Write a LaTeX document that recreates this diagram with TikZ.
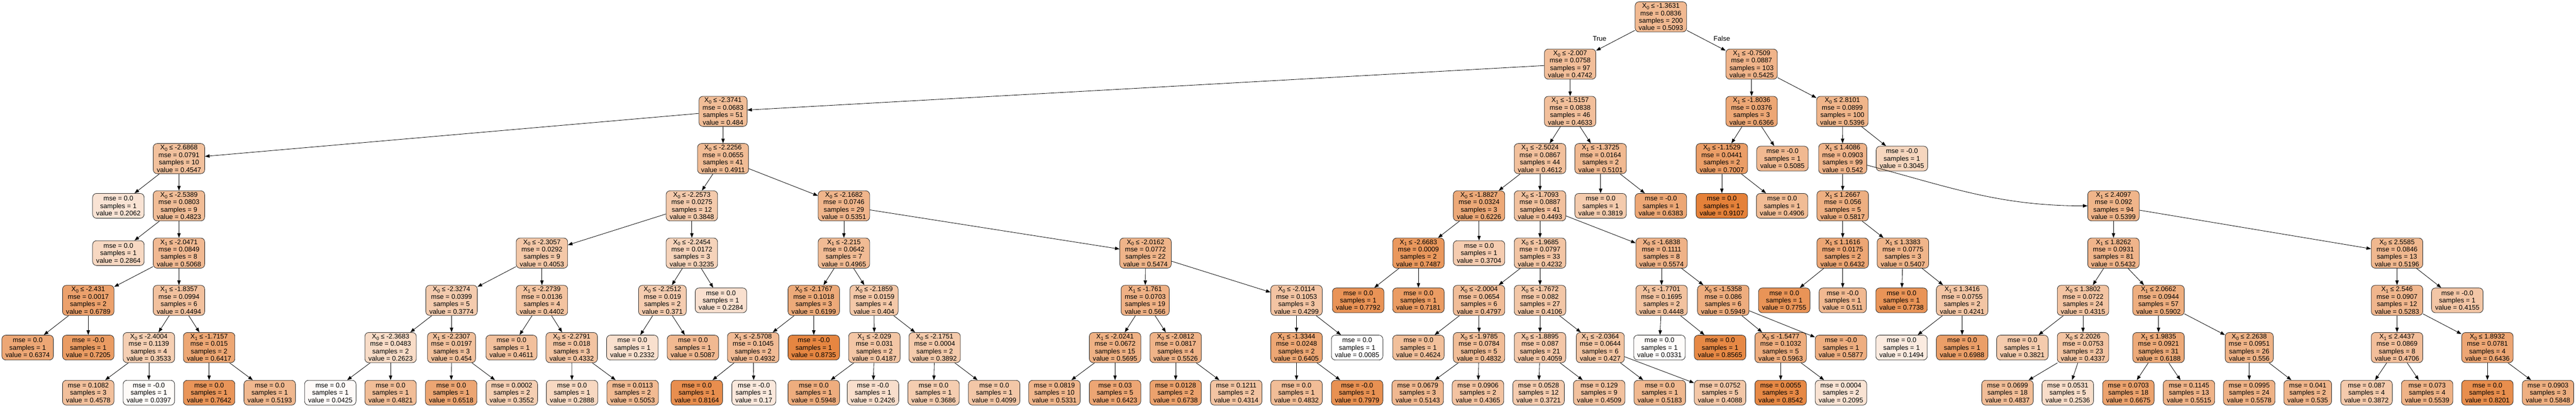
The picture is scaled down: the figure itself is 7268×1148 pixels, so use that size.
\documentclass[tikz,border=0pt]{standalone}
\usepackage{fontspec}
\setmainfont{Liberation Sans}
\usetikzlibrary{arrows.meta}
\definecolor{torange}{HTML}{E58139}
\newcommand\sx[1]{X\raisebox{-0.22em}{\fontsize{13.5}{14}\selectfont #1}}
\newcommand\tsplit[8]{%
  \pgfmathsetmacro\tpct{max(0,min(100,(#8-0.0085)/0.9022*100))}%
  \pgfmathsetmacro\tyy{ifthenelse(#3==8,1108,47.6+133.3*#3)}%
  \node[tbox,fill=torange!\tpct!white,minimum height=85pt] (#1) at (#2,\tyy) {\sx{#4} ≤ #5\\mse = #6\\samples = #7\\value = #8};}
\newcommand\tleaf[6]{%
  \pgfmathsetmacro\tpct{max(0,min(100,(#6-0.0085)/0.9022*100))}%
  \pgfmathsetmacro\tyy{ifthenelse(#3==8,1108,47.6+133.3*#3)}%
  \node[tbox,fill=torange!\tpct!white,minimum height=70pt] (#1) at (#2,\tyy) {mse = #4\\samples = #5\\value = #6};}
\newcommand\ed[2]{\draw[tedge] (#1) -- (#2);}
\begin{document}
\begin{tikzpicture}[x=1pt,y=-1pt,
  tbox/.style={draw=black!85,line width=1.2pt,rounded corners=11pt,align=center,inner xsep=10pt,inner ysep=3pt,font=\fontsize{19}{21}\selectfont,text=black},
  tedge/.style={line width=1.2pt,-{Triangle[length=13pt,width=9.5pt]}},
  tlab/.style={font=\fontsize{19}{21}\selectfont,inner sep=0pt}]
\useasboundingbox (0,0) rectangle (7268,1148);
\fill[white] (0,0) rectangle (7268,1148);
% internal nodes
\tsplit{root}{4686}{0}{0}{-1.3631}{0.0836}{200}{0.5093}
\tsplit{A}{4430}{1}{0}{-2.007}{0.0758}{97}{0.4742}
\tsplit{AW}{4942}{1}{1}{-0.7509}{0.0887}{103}{0.5425}
\tsplit{B}{2040}{2}{0}{-2.3741}{0.0683}{51}{0.484}
\tsplit{AG}{4430}{2}{1}{-1.5157}{0.0838}{46}{0.4633}
\tsplit{AX}{4942}{2}{1}{-1.8036}{0.0376}{3}{0.6366}
\tsplit{AZ}{5198}{2}{0}{2.8101}{0.0899}{100}{0.5396}
\tsplit{C}{505}{3}{0}{-2.6868}{0.0791}{10}{0.4547}
\tsplit{J}{2040}{3}{0}{-2.2256}{0.0655}{41}{0.4911}
\tsplit{AH}{4345}{3}{1}{-2.5024}{0.0867}{44}{0.4612}
\tsplit{AV}{4516}{3}{1}{-1.3725}{0.0164}{2}{0.5101}
\tsplit{AY}{4858}{3}{0}{-1.1529}{0.0441}{2}{0.7007}
\tsplit{BA}{5199}{3}{1}{1.4086}{0.0903}{99}{0.542}
\tsplit{D}{505}{4}{0}{-2.5389}{0.0803}{9}{0.4823}
\tsplit{K}{1952}{4}{0}{-2.2573}{0.0275}{12}{0.3848}
\tsplit{T}{2381}{4}{0}{-2.1682}{0.0746}{29}{0.5351}
\tsplit{AI}{4173}{4}{0}{-1.8827}{0.0324}{3}{0.6226}
\tsplit{AK}{4345}{4}{0}{-1.7093}{0.0887}{41}{0.4493}
\tsplit{BB}{5199}{4}{1}{1.2667}{0.056}{5}{0.5817}
\tsplit{BF}{5963}{4}{1}{2.4097}{0.092}{94}{0.5399}
\tsplit{E}{505}{5}{1}{-2.0471}{0.0849}{8}{0.5068}
\tsplit{L}{1529}{5}{0}{-2.3057}{0.0292}{9}{0.4053}
\tsplit{R}{1952}{5}{0}{-2.2454}{0.0172}{3}{0.3235}
\tsplit{U}{2381}{5}{1}{-2.215}{0.0642}{7}{0.4965}
\tsplit{AA}{3232}{5}{0}{-2.0162}{0.0772}{22}{0.5474}
\tsplit{AJ}{4002}{5}{1}{-2.6683}{0.0009}{2}{0.7487}
\tsplit{AL}{4345}{5}{0}{-1.9685}{0.0797}{33}{0.4232}
\tsplit{AR}{4688}{5}{0}{-1.6838}{0.1111}{8}{0.5574}
\tsplit{BC}{5199}{5}{1}{1.1616}{0.0175}{2}{0.6432}
\tsplit{BD}{5369}{5}{1}{1.3383}{0.0775}{3}{0.5407}
\tsplit{BG}{5963}{5}{1}{1.8262}{0.0931}{81}{0.5432}
\tsplit{BM}{6763}{5}{0}{2.5585}{0.0846}{13}{0.5196}
\tsplit{F}{249}{6}{0}{-2.431}{0.0017}{2}{0.6789}
\tsplit{G}{505}{6}{1}{-1.8357}{0.0994}{6}{0.4494}
\tsplit{M}{1274}{6}{0}{-2.3274}{0.0399}{5}{0.3774}
\tsplit{P}{1529}{6}{1}{-2.2739}{0.0136}{4}{0.4402}
\tsplit{S}{1869}{6}{0}{-2.2512}{0.019}{2}{0.371}
\tsplit{V}{2296}{6}{0}{-2.1767}{0.1018}{3}{0.6199}
\tsplit{X}{2466}{6}{0}{-2.1859}{0.0159}{4}{0.404}
\tsplit{AB}{3231}{6}{1}{-1.761}{0.0703}{19}{0.566}
\tsplit{AE}{3658}{6}{0}{-2.0114}{0.1053}{3}{0.4299}
\tsplit{AM}{4173}{6}{0}{-2.0004}{0.0654}{6}{0.4797}
\tsplit{AO}{4345}{6}{0}{-1.7672}{0.082}{27}{0.4106}
\tsplit{AS}{4688}{6}{1}{-1.7701}{0.1695}{2}{0.4448}
\tsplit{AT}{4862}{6}{0}{-1.5358}{0.086}{6}{0.5949}
\tsplit{BE}{5536}{6}{1}{1.3416}{0.0755}{2}{0.4241}
\tsplit{BH}{5877}{6}{0}{1.3802}{0.0722}{24}{0.4315}
\tsplit{BJ}{6090}{6}{1}{2.0662}{0.0944}{57}{0.5902}
\tsplit{BN}{6763}{6}{1}{2.546}{0.0907}{12}{0.5283}
\tsplit{H}{420}{7}{0}{-2.4004}{0.1139}{4}{0.3533}
\tsplit{I}{590}{7}{1}{-1.7157}{0.015}{2}{0.6417}
\tsplit{N}{1102}{7}{0}{-2.3683}{0.0483}{2}{0.2623}
\tsplit{O}{1274}{7}{1}{-2.2307}{0.0197}{3}{0.454}
\tsplit{Q}{1613}{7}{0}{-2.2791}{0.018}{3}{0.4332}
\tsplit{W}{2125}{7}{1}{-2.5708}{0.1045}{2}{0.4932}
\tsplit{Y}{2467}{7}{1}{-2.029}{0.031}{2}{0.4187}
\tsplit{Z}{2637}{7}{0}{-2.1751}{0.0004}{2}{0.3892}
\tsplit{AC}{3146}{7}{1}{-2.0241}{0.0672}{15}{0.5695}
\tsplit{AD}{3317}{7}{0}{-2.0812}{0.0817}{4}{0.5526}
\tsplit{AF}{3658}{7}{1}{-1.3344}{0.0248}{2}{0.6405}
\tsplit{AN}{4173}{7}{0}{-1.9785}{0.0784}{5}{0.4832}
\tsplit{AP}{4345}{7}{0}{-1.8895}{0.087}{21}{0.4059}
\tsplit{AQ}{4515}{7}{1}{-2.0364}{0.0644}{6}{0.427}
\tsplit{AU}{5024}{7}{0}{-1.5477}{0.1032}{5}{0.5963}
\tsplit{BI}{5877}{7}{0}{2.2026}{0.0753}{23}{0.4337}
\tsplit{BK}{6090}{7}{1}{1.9835}{0.0921}{31}{0.6188}
\tsplit{BL}{6346}{7}{0}{2.2638}{0.0951}{26}{0.556}
\tsplit{BO}{6763}{7}{1}{2.4437}{0.0869}{8}{0.4706}
\tsplit{BP}{7018}{7}{0}{1.8932}{0.0781}{4}{0.6436}
% leaves
\tleaf{Cl}{334}{4}{0.0}{1}{0.2062}
\tleaf{Dl}{334}{5}{0.0}{1}{0.2864}
\tleaf{Fl}{78}{7}{0.0}{1}{0.6374}
\tleaf{Fr}{249}{7}{-0.0}{1}{0.7205}
\tleaf{Hl}{249}{8}{0.1082}{3}{0.4578}
\tleaf{Hr}{420}{8}{-0.0}{1}{0.0397}
\tleaf{Il}{590}{8}{0.0}{1}{0.7642}
\tleaf{Ir}{761}{8}{0.0}{1}{0.5193}
\tleaf{Nl}{932}{8}{0.0}{1}{0.0425}
\tleaf{Nr}{1102}{8}{0.0}{1}{0.4821}
\tleaf{Ol}{1273}{8}{0.0}{1}{0.6518}
\tleaf{Or}{1444}{8}{0.0002}{2}{0.3552}
\tleaf{Pl}{1443}{7}{0.0}{1}{0.4611}
\tleaf{Ql}{1614}{8}{0.0}{1}{0.2888}
\tleaf{Qr}{1785}{8}{0.0113}{2}{0.5053}
\tleaf{Rr}{2034}{6}{0.0}{1}{0.2284}
\tleaf{Sl}{1784}{7}{0.0}{1}{0.2332}
\tleaf{Sr}{1955}{7}{0.0}{1}{0.5087}
\tleaf{Vr}{2296}{7}{-0.0}{1}{0.8735}
\tleaf{Wl}{1966}{8}{0.0}{1}{0.8164}
\tleaf{Wr}{2127}{8}{-0.0}{1}{0.17}
\tleaf{Yl}{2296}{8}{0.0}{1}{0.5948}
\tleaf{Yr}{2463}{8}{-0.0}{1}{0.2426}
\tleaf{Zl}{2634}{8}{0.0}{1}{0.3686}
\tleaf{Zr}{2805}{8}{0.0}{1}{0.4099}
\tleaf{ACl}{2975}{8}{0.0819}{10}{0.5331}
\tleaf{ACr}{3146}{8}{0.03}{5}{0.6423}
\tleaf{ADl}{3317}{8}{0.0128}{2}{0.6738}
\tleaf{ADr}{3488}{8}{0.1211}{2}{0.4314}
\tleaf{AEr}{3829}{7}{0.0}{1}{0.0085}
\tleaf{AFl}{3658}{8}{0.0}{1}{0.4832}
\tleaf{AFr}{3829}{8}{-0.0}{1}{0.7979}
\tleaf{AIr}{4173}{5}{0.0}{1}{0.3704}
\tleaf{AJl}{3832}{6}{0.0}{1}{0.7792}
\tleaf{AJr}{4002}{6}{0.0}{1}{0.7181}
\tleaf{AMl}{4002}{7}{0.0}{1}{0.4624}
\tleaf{ANl}{4000}{8}{0.0679}{3}{0.5143}
\tleaf{ANr}{4170}{8}{0.0906}{2}{0.4365}
\tleaf{APl}{4341}{8}{0.0528}{12}{0.3721}
\tleaf{APr}{4512}{8}{0.129}{9}{0.4509}
\tleaf{AQl}{4683}{8}{0.0}{1}{0.5183}
\tleaf{AQr}{4853}{8}{0.0752}{5}{0.4088}
\tleaf{ASl}{4682}{7}{0.0}{1}{0.0331}
\tleaf{ASr}{4853}{7}{0.0}{1}{0.8565}
\tleaf{ATr}{5194}{7}{-0.0}{1}{0.5877}
\tleaf{AUl}{5024}{8}{0.0055}{3}{0.8542}
\tleaf{AUr}{5194}{8}{0.0004}{2}{0.2095}
\tleaf{AVl}{4516}{4}{0.0}{1}{0.3819}
\tleaf{AVr}{4686}{4}{-0.0}{1}{0.6383}
\tleaf{AXr}{5029}{3}{-0.0}{1}{0.5085}
\tleaf{AYl}{4858}{4}{0.0}{1}{0.9107}
\tleaf{AYr}{5028}{4}{0.0}{1}{0.4906}
\tleaf{AZr}{5366}{3}{-0.0}{1}{0.3045}
\tleaf{BCl}{5034}{6}{0.0}{1}{0.7755}
\tleaf{BCr}{5199}{6}{-0.0}{1}{0.511}
\tleaf{BDl}{5365}{6}{0.0}{1}{0.7738}
\tleaf{BEl}{5365}{7}{0.0}{1}{0.1494}
\tleaf{BEr}{5536}{7}{0.0}{1}{0.6988}
\tleaf{BHl}{5706}{7}{0.0}{1}{0.3821}
\tleaf{BIl}{5664}{8}{0.0699}{18}{0.4837}
\tleaf{BIr}{5834}{8}{0.0531}{5}{0.2536}
\tleaf{BKl}{6005}{8}{0.0703}{18}{0.6675}
\tleaf{BKr}{6176}{8}{0.1145}{13}{0.5515}
\tleaf{BLl}{6346}{8}{0.0995}{24}{0.5578}
\tleaf{BLr}{6511}{8}{0.041}{2}{0.535}
\tleaf{BMr}{6933}{6}{-0.0}{1}{0.4155}
\tleaf{BOl}{6677}{8}{0.087}{4}{0.3872}
\tleaf{BOr}{6848}{8}{0.073}{4}{0.5539}
\tleaf{BPl}{7018}{8}{0.0}{1}{0.8201}
\tleaf{BPr}{7189}{8}{0.0903}{3}{0.5848}
% labels
\node[tlab] (trueLbl) at (4513,109) {True};
\node[tlab] (falseLbl) at (4858,109) {False};
% edges
\ed{root}{A}\ed{root}{AW}
\ed{A}{B}\ed{A}{AG}
\ed{B}{C}\ed{B}{J}
\ed{C}{Cl}\ed{C}{D}
\ed{D}{Dl}\ed{D}{E}
\ed{E}{F}\ed{E}{G}
\ed{F}{Fl}\ed{F}{Fr}
\ed{G}{H}\ed{G}{I}
\ed{H}{Hl}\ed{H}{Hr}
\ed{I}{Il}\ed{I}{Ir}
\ed{J}{K}\ed{J}{T}
\ed{K}{L}\ed{K}{R}
\ed{L}{M}\ed{L}{P}
\ed{M}{N}\ed{M}{O}
\ed{N}{Nl}\ed{N}{Nr}
\ed{O}{Ol}\ed{O}{Or}
\ed{P}{Pl}\ed{P}{Q}
\ed{Q}{Ql}\ed{Q}{Qr}
\ed{R}{S}\ed{R}{Rr}
\ed{S}{Sl}\ed{S}{Sr}
\ed{T}{U}\ed{T}{AA}
\ed{U}{V}\ed{U}{X}
\ed{V}{W}\ed{V}{Vr}
\ed{W}{Wl}\ed{W}{Wr}
\ed{X}{Y}\ed{X}{Z}
\ed{Y}{Yl}\ed{Y}{Yr}
\ed{Z}{Zl}\ed{Z}{Zr}
\ed{AA}{AB}\ed{AA}{AE}
\ed{AB}{AC}\ed{AB}{AD}
\ed{AC}{ACl}\ed{AC}{ACr}
\ed{AD}{ADl}\ed{AD}{ADr}
\ed{AE}{AF}\ed{AE}{AEr}
\ed{AF}{AFl}\ed{AF}{AFr}
\ed{AG}{AH}\ed{AG}{AV}
\ed{AH}{AI}\ed{AH}{AK}
\ed{AI}{AJ}\ed{AI}{AIr}
\ed{AJ}{AJl}\ed{AJ}{AJr}
\ed{AK}{AL}\ed{AK}{AR}
\ed{AL}{AM}\ed{AL}{AO}
\ed{AM}{AMl}\ed{AM}{AN}
\ed{AN}{ANl}\ed{AN}{ANr}
\ed{AO}{AP}\ed{AO}{AQ}
\ed{AP}{APl}\ed{AP}{APr}
\ed{AQ}{AQl}\ed{AQ}{AQr}
\ed{AR}{AS}\ed{AR}{AT}
\ed{AS}{ASl}\ed{AS}{ASr}
\ed{AT}{AU}\ed{AT}{ATr}
\ed{AU}{AUl}\ed{AU}{AUr}
\ed{AV}{AVl}\ed{AV}{AVr}
\ed{AW}{AX}\ed{AW}{AZ}
\ed{AX}{AY}\ed{AX}{AXr}
\ed{AY}{AYl}\ed{AY}{AYr}
\ed{AZ}{BA}\ed{AZ}{AZr}
\ed{BA}{BB}
\draw[tedge] (BA) to[out=-15,in=180] (BF);
\ed{BB}{BC}\ed{BB}{BD}
\ed{BC}{BCl}\ed{BC}{BCr}
\ed{BD}{BDl}\ed{BD}{BE}
\ed{BE}{BEl}\ed{BE}{BEr}
\ed{BF}{BG}\ed{BF}{BM}
\ed{BG}{BH}\ed{BG}{BJ}
\ed{BH}{BHl}\ed{BH}{BI}
\ed{BI}{BIl}\ed{BI}{BIr}
\ed{BJ}{BK}\ed{BJ}{BL}
\ed{BK}{BKl}\ed{BK}{BKr}
\ed{BL}{BLl}\ed{BL}{BLr}
\ed{BM}{BN}\ed{BM}{BMr}
\ed{BN}{BO}\ed{BN}{BP}
\ed{BO}{BOl}\ed{BO}{BOr}
\ed{BP}{BPl}\ed{BP}{BPr}
\end{tikzpicture}
\end{document}
